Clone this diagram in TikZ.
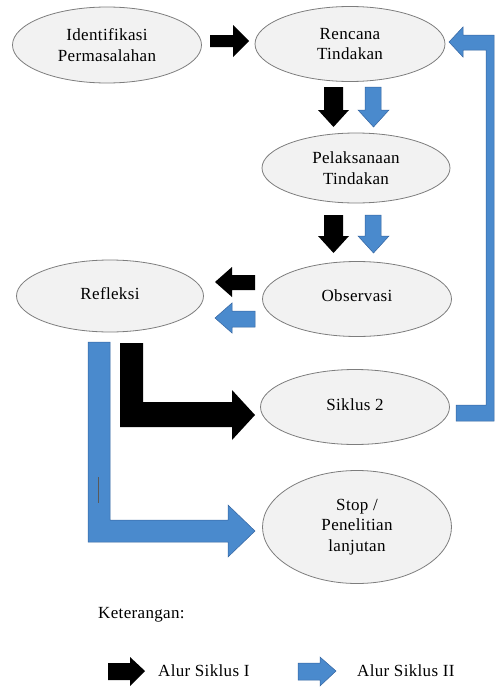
\documentclass[tikz,border=0pt]{standalone}
\usepackage{fontspec}
\setmainfont{Liberation Serif}[LetterSpace=2]
\usetikzlibrary{shapes.geometric}
\definecolor{blueA}{RGB}{74,138,205}
\definecolor{blueB}{RGB}{52,100,160}
\definecolor{ellFill}{RGB}{242,242,242}
\definecolor{ellDraw}{RGB}{125,125,125}
\tikzset{
  oval/.style={ellipse, draw=ellDraw, fill=ellFill, line width=0.8pt, inner sep=0pt,
    align=center, font=\fontsize{17}{20.5}\selectfont},
  blk/.style={fill=black},
  blu/.style={fill=blueA, draw=blueB, line width=0.5pt},
  lbl/.style={anchor=west, inner sep=0pt, font=\fontsize{17}{20}\selectfont}
}
\begin{document}
\begin{tikzpicture}[x=1pt, y=-1pt]
\useasboundingbox (0,0) rectangle (495,688);
% nodes
\node[oval, minimum width=189pt, minimum height=76pt] (ident) at (107,45) {Identifikasi\\Permasalahan};
\node[oval, minimum width=190pt, minimum height=75pt] (renc) at (350,44) {Rencana\\Tindakan};
\node[oval, minimum width=188pt, minimum height=70pt] (pel) at (356,168) {Pelaksanaan\\Tindakan};
\node[oval, minimum width=187pt, minimum height=72pt] (ref) at (110,296) {\raisebox{5pt}{Refleksi}};
\node[oval, minimum width=189pt, minimum height=75pt] (obs) at (357,299) {\raisebox{6pt}{Observasi}};
\node[oval, minimum width=189pt, minimum height=75pt] (sik) at (355,407) {\raisebox{5pt}{Siklus 2}};
\node[oval, minimum width=189pt, minimum height=113pt] (stop) at (357,527) {Stop /\\Penelitian\\lanjutan};
% black right arrow ident -> renc
\fill[blk] (210,35) -- (233,35) -- (233,25) -- (249,41) -- (233,57) -- (233,47) -- (210,47) -- cycle;
% down arrows renc -> pel
\fill[blk] (324,87) -- (343,87) -- (343,110) -- (349,110) -- (333.5,127) -- (318,110) -- (324,110) -- cycle;
\filldraw[blu] (365,87) -- (381,87) -- (381,110) -- (389,110) -- (373.5,127) -- (358,110) -- (365,110) -- cycle;
% down arrows pel -> obs
\fill[blk] (324,215) -- (343,215) -- (343,236) -- (349,236) -- (333.5,253) -- (318,236) -- (324,236) -- cycle;
\filldraw[blu] (365,215) -- (381,215) -- (381,236) -- (389,236) -- (373.5,253) -- (358,236) -- (365,236) -- cycle;
% left arrows obs -> ref
\fill[blk] (255,275) -- (232,275) -- (232,267) -- (215,282) -- (232,297) -- (232,290) -- (255,290) -- cycle;
\filldraw[blu] (255,311) -- (232,311) -- (232,303) -- (215,318) -- (232,333) -- (232,327) -- (255,327) -- cycle;
% black elbow ref -> sik
\fill[blk] (120,343) -- (143,343) -- (143,402) -- (232,402) -- (232,390) -- (255,415) -- (232,440) -- (232,427) -- (120,427) -- cycle;
% blue elbow ref -> stop
\filldraw[blu] (88,342) -- (110,342) -- (110,520) -- (228,520) -- (228,505) -- (255,531) -- (228,557) -- (228,542) -- (88,542) -- cycle;
\draw[gray!70!black, line width=0.8pt] (98,477) -- (98,503);
% blue return sik -> renc
\filldraw[blu] (456,405) -- (486,405) -- (486,50) -- (463,50) -- (463,57) -- (449,42) -- (463,27) -- (463,35) -- (494,35) -- (494,421) -- (456,421) -- cycle;
% legend
\node[lbl] (ket) at (98,615) {Keterangan:};
\fill[blk] (108,663) -- (130,663) -- (130,657) -- (145,671) -- (130,686) -- (130,680) -- (108,680) -- cycle;
\node[lbl] (l1) at (158,671) {Alur Siklus I};
\filldraw[blu] (298,663) -- (320,663) -- (320,657) -- (336,671) -- (320,686) -- (320,680) -- (298,680) -- cycle;
\node[lbl] (l2) at (357,671) {Alur Siklus II};
\end{tikzpicture}
\end{document}
